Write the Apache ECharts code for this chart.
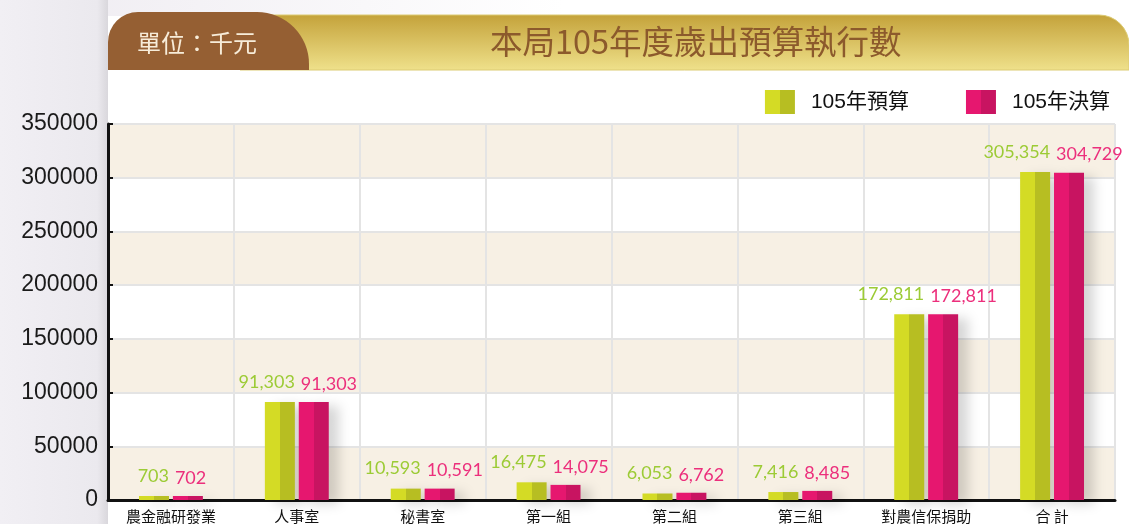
<!DOCTYPE html>
<html>
<head>
<meta charset="utf-8">
<title>本局105年度歲出預算執行數</title>
<script src="https://cdn.jsdelivr.net/npm/echarts@6/dist/echarts.min.js"></script>
<style>
  html, body { margin: 0; padding: 0; }
  #chart { width: 1129px; height: 524px; }
</style>
</head>
<body>
<div id="chart"></div>
<script>
// 資料（單位：千元）
var categories = ['農金融研發業', '人事室', '秘書室', '第一組', '第二組', '第三組', '對農信保捐助', '合 計']
var budget = [703, 91303, 10593, 16475, 6053, 7416, 172811, 305354]
var actual = [702, 91303, 10591, 14075, 6762, 8485, 172811, 304729]
var seriesNames = ['105年預算', '105年決算']
var yTicks = [0, 50000, 100000, 150000, 200000, 250000, 300000, 350000]

var cjk = 'Noto Sans CJK TC'

function withComma(v) {
  return String(v).replace(/\B(?=(\d{3})+(?!\d))/g, ',')
}

// 左右兩色的長條
function twoTone(light, dark) {
  return new echarts.graphic.LinearGradient(0, 0, 1, 0, [
    { offset: 0, color: light },
    { offset: 0.5, color: light },
    { offset: 0.5, color: dark },
    { offset: 1, color: dark }
  ])
}

var chart = echarts.init(document.getElementById('chart'))

var option = {
  backgroundColor: '#ffffff',
  animation: false,
  graphic: [
    {
      type: 'rect',
      shape: { x: 0, y: 0, width: 1129, height: 16 },
      style: {
        fill: new echarts.graphic.LinearGradient(0, 0, 1, 0, [
          { offset: 0, color: '#eeebf1' },
          { offset: 0.5, color: '#ffffff' }
        ])
      },
      silent: true
    },
    {
      type: 'rect',
      shape: { x: 0, y: 0, width: 108, height: 524 },
      style: {
        fill: new echarts.graphic.LinearGradient(0, 0, 1, 0, [
          { offset: 0, color: '#f1eff4' },
          { offset: 0.9, color: '#ebe9ee' },
          { offset: 1, color: '#d9d7dc' }
        ])
      },
      silent: true
    },
    {
      // 金色標題列
      type: 'rect',
      shape: { x: 240, y: 15, width: 889, height: 55, r: [0, 30, 0, 0] },
      style: {
        fill: new echarts.graphic.LinearGradient(0, 0, 0, 1, [
          { offset: 0, color: '#c4a23a' },
          { offset: 1, color: '#efe18b' }
        ]),
        stroke: '#dccb73',
        lineWidth: 1
      },
      silent: true
    },
    {
      // 咖啡色單位標籤
      type: 'rect',
      shape: { x: 108, y: 12, width: 201, height: 58, r: [30, 52, 0, 0] },
      style: { fill: '#955f33' },
      silent: true
    },
    {
      type: 'text',
      left: 137,
      top: 31,
      style: {
        text: '單位：千元',
        fill: '#f7ecd9',
        font: '24px "' + cjk + '"'
      },
      silent: true
    },
    {
      type: 'text',
      left: 490,
      top: 25,
      style: {
        text: '本局105年度歲出預算執行數',
        fill: '#8c5a2c',
        font: '32.5px "' + cjk + '"'
      },
      silent: true
    }
  ],
  legend: {
    data: seriesNames,
    icon: 'rect',
    right: 14,
    top: 85,
    itemWidth: 30,
    itemHeight: 24,
    itemGap: 57,
    textStyle: {
      fontSize: 21,
      color: '#111',
      fontFamily: 'Liberation Sans, ' + cjk,
      padding: [0, 0, 0, 11]
    }
  },
  grid: {
    left: 108,
    right: 14,
    top: 124,
    bottom: 24
  },
  xAxis: {
    type: 'category',
    data: categories,
    axisLine: { lineStyle: { color: '#111', width: 3 } },
    axisTick: { inside: true, length: 5, lineStyle: { color: '#111', width: 2 } },
    axisLabel: {
      color: '#111',
      fontSize: 15,
      fontFamily: cjk,
      margin: 9,
      interval: 0
    },
    splitLine: { show: true, lineStyle: { color: '#e4e4e4', width: 2 } }
  },
  yAxis: {
    type: 'value',
    min: yTicks[0],
    max: yTicks[yTicks.length - 1],
    interval: yTicks[1] - yTicks[0],
    axisLine: { show: true, lineStyle: { color: '#111', width: 3 } },
    axisTick: { show: true, inside: true, length: 5, lineStyle: { color: '#111', width: 2 } },
    axisLabel: {
      color: '#1a1a1a',
      fontSize: 23,
      fontFamily: 'Liberation Sans',
      margin: 10,
      formatter: function (v) { return String(v) }
    },
    splitLine: { lineStyle: { color: '#e4e4e4', width: 2 } },
    splitArea: {
      show: true,
      areaStyle: { color: ['#f7f0e4', '#ffffff'] }
    }
  },
  series: [
    {
      name: seriesNames[0],
      type: 'bar',
      data: budget,
      barWidth: 30,
      barGap: '13%',
      barMinHeight: 4,
      itemStyle: {
        color: twoTone('#d4db25', '#b7be22'),
        shadowColor: 'rgba(0,0,0,0.16)',
        shadowBlur: 12,
        shadowOffsetX: 10,
        shadowOffsetY: 4
      },
      label: {
        show: true,
        position: ['100%', -11],
        align: 'right',
        verticalAlign: 'bottom',
        color: '#9ccb35',
        fontSize: 18,
        fontFamily: 'Lato',
        formatter: function (p) { return withComma(p.value) }
      }
    },
    {
      name: seriesNames[1],
      type: 'bar',
      data: actual,
      barWidth: 30,
      barMinHeight: 4,
      itemStyle: {
        color: twoTone('#e6176f', '#c81461'),
        shadowColor: 'rgba(0,0,0,0.16)',
        shadowBlur: 12,
        shadowOffsetX: 10,
        shadowOffsetY: 4
      },
      label: {
        show: true,
        position: [2, -9],
        align: 'left',
        verticalAlign: 'bottom',
        color: '#ec2f7c',
        fontSize: 18,
        fontFamily: 'Lato',
        formatter: function (p) { return withComma(p.value) }
      }
    }
  ]
}

chart.setOption(option)
</script>
</body>
</html>
